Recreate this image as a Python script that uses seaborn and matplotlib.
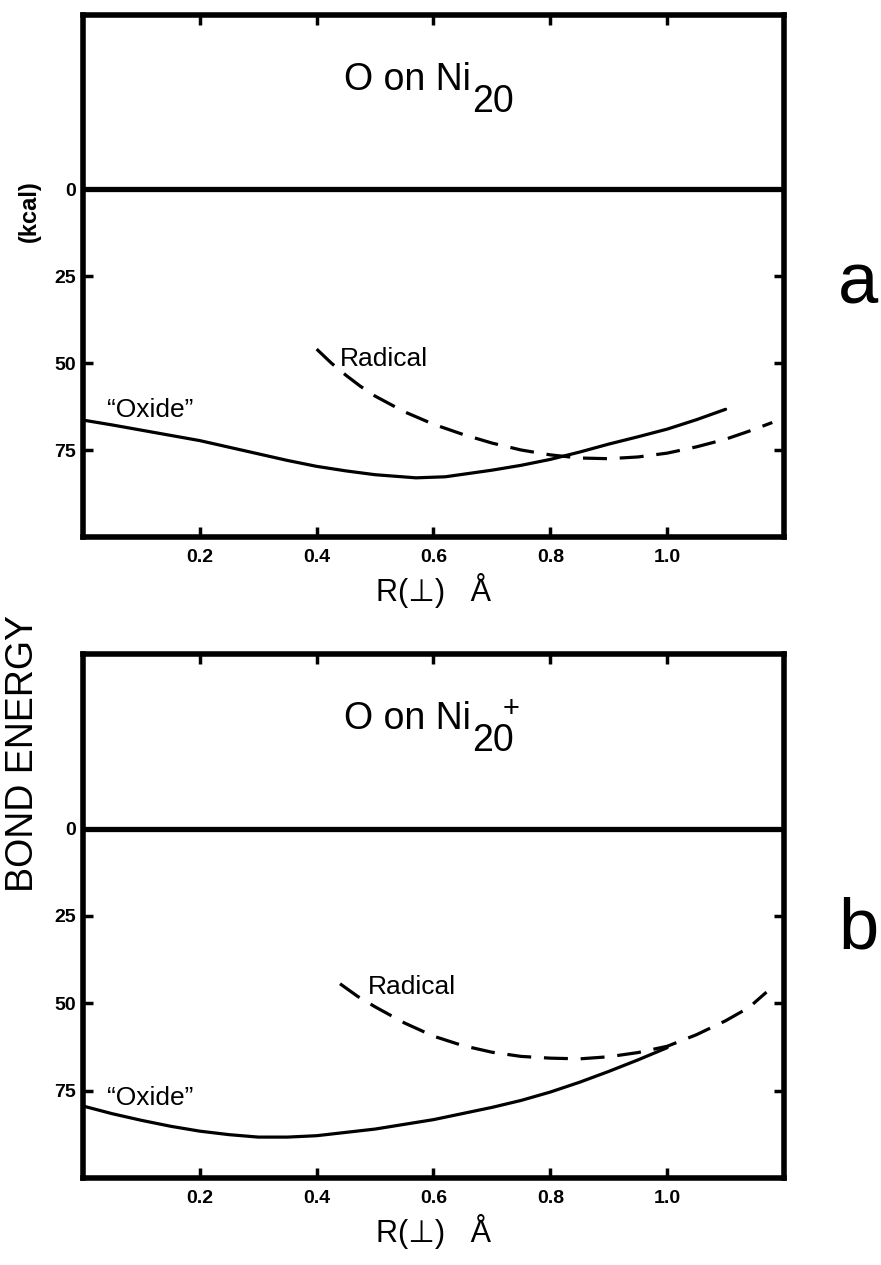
import matplotlib
matplotlib.use("Agg")
import matplotlib.pyplot as plt
import seaborn as sns
import pandas as pd

# Bond energy (kcal) versus perpendicular distance R (Angstrom)
oxide_a_r = [0.0, 0.05, 0.1, 0.15, 0.2, 0.25, 0.3, 0.35, 0.4, 0.45, 0.5, 0.57,
             0.62, 0.7, 0.75, 0.8, 0.85, 0.9, 0.95, 1.0, 1.05, 1.1]
oxide_a_e = [66.4, 67.8, 69.3, 70.8, 72.3, 74.2, 76.1, 78.0, 79.7, 81.0, 82.1, 83.0,
             82.7, 80.8, 79.4, 77.7, 75.6, 73.3, 71.2, 69.0, 66.3, 63.3]
radical_a_r = [0.40, 0.425, 0.45, 0.475, 0.50, 0.55, 0.60, 0.65, 0.70, 0.75, 0.80,
               0.85, 0.90, 0.95, 1.00, 1.05, 1.10, 1.14, 1.18]
radical_a_e = [46.0, 50.0, 53.5, 56.7, 59.5, 64.0, 67.6, 70.5, 73.0, 75.0, 76.4,
               77.3, 77.5, 77.0, 75.9, 74.1, 71.9, 69.6, 67.1]

oxide_b_r = [0.0, 0.05, 0.1, 0.15, 0.2, 0.25, 0.3, 0.35, 0.4, 0.5, 0.6, 0.7,
             0.75, 0.8, 0.85, 0.9, 0.95, 1.0]
oxide_b_e = [79.4, 81.6, 83.5, 85.2, 86.6, 87.6, 88.3, 88.3, 87.9, 86.0, 83.3, 79.8,
             77.8, 75.4, 72.6, 69.5, 66.2, 62.7]
radical_b_r = [0.44, 0.47, 0.50, 0.55, 0.60, 0.65, 0.70, 0.75, 0.80, 0.85, 0.90,
               0.95, 1.00, 1.05, 1.10, 1.14, 1.17]
radical_b_e = [44.4, 48.0, 51.0, 55.6, 59.4, 62.1, 64.0, 65.2, 65.7, 65.9, 65.3,
               64.1, 62.3, 59.0, 55.0, 51.2, 46.8]

x_ticks = [0.2, 0.4, 0.6, 0.8, 1.0]
x_tick_labels = ["0.2", "0.4", "0.6", "0.8", "1.0"]
y_ticks = [0, 25, 50, 75]
y_tick_labels = ["0", "25", "50", "75"]

panels = [
    dict(oxide=(oxide_a_r, oxide_a_e), radical=(radical_a_r, radical_a_e),
         sub_extra=None, letter="a", oxide_lbl=(0.041, 65.6), radical_lbl=(0.44, 50.9)),
    dict(oxide=(oxide_b_r, oxide_b_e), radical=(radical_b_r, radical_b_e),
         sub_extra="+", letter="b", oxide_lbl=(0.041, 79.0), radical_lbl=(0.488, 47.3)),
]

sns.set_style("white")
plt.rcParams["font.family"] = ["Liberation Sans", "DejaVu Sans"]
for key in ["text.color", "axes.labelcolor", "xtick.color", "ytick.color", "axes.edgecolor"]:
    plt.rcParams[key] = "black"

fig = plt.figure(figsize=(8.81, 12.65), dpi=100)
ax_a = fig.add_axes([0.0942, 0.5755, 0.7957, 0.4126])
ax_b = fig.add_axes([0.0942, 0.0688, 0.7957, 0.4142])

tick_font = dict(family=["Liberation Sans Narrow", "Liberation Sans"], weight="bold", size=14)

for ax, p, letter_y in [(ax_a, panels[0], 1 - 285 / 1265), (ax_b, panels[1], 1 - 930 / 1265)]:
    ox = pd.DataFrame({"R": p["oxide"][0], "E": p["oxide"][1]})
    rd = pd.DataFrame({"R": p["radical"][0], "E": p["radical"][1]})
    sns.lineplot(data=ox, x="R", y="E", ax=ax, color="black", lw=2.3,
                 sort=False, estimator=None)
    sns.lineplot(data=rd, x="R", y="E", ax=ax, color="black", lw=2.3,
                 sort=False, estimator=None, dashes=False, linestyle=(0, (7.5, 4.0)))
    ax.axhline(0, color="black", lw=3.8)

    ax.set_xlim(0, 1.2)
    ax.set_ylim(100, -50)
    ax.set_xticks(x_ticks)
    ax.set_xticklabels(x_tick_labels, fontdict=tick_font)
    ax.set_yticks(y_ticks)
    ax.set_yticklabels(y_tick_labels, fontdict=tick_font)
    ax.tick_params(direction="in", length=7, width=2.5, top=True, right=True,
                   bottom=True, left=True, labeltop=False, labelright=False,
                   color="black", labelcolor="black")
    ax.tick_params(axis="x", pad=9)
    ax.tick_params(axis="y", pad=5)
    for s in ax.spines.values():
        s.set_linewidth(4)
        s.set_color("black")
    ax.set_ylabel("")
    ax.set_xlabel("R(\u22a5)   \u00c5", fontsize=22, labelpad=5,
                  family=["Liberation Sans", "DejaVu Sans"])

    t = ax.text(0.447, -28.5, "O on Ni", fontsize=27, ha="left", va="baseline")
    sub = ax.annotate("20", xy=(1, 0), xycoords=t, xytext=(1, -10),
                      textcoords="offset points", fontsize=27, ha="left", va="baseline")
    if p["sub_extra"]:
        ax.annotate(p["sub_extra"], xy=(1, 1), xycoords=sub, xytext=(-8, 0),
                    textcoords="offset points", fontsize=21, ha="left", va="bottom")

    ax.text(*p["oxide_lbl"], "\u201cOxide\u201d", fontsize=19, ha="left", va="baseline")
    ax.text(*p["radical_lbl"], "Radical", fontsize=19, ha="left", va="baseline")

    fig.text(858 / 881, letter_y, p["letter"], fontsize=52, ha="center", va="center")

fig.text(29 / 881, 1 - 211 / 1265, "(kcal)", rotation=90, fontsize=17,
         weight="bold", ha="center", va="center")
fig.text(23 / 881, 1 - 754 / 1265, "BOND ENERGY", rotation=90, fontsize=27,
         ha="center", va="center")

fig.savefig("out.png", dpi=100, facecolor="white")
